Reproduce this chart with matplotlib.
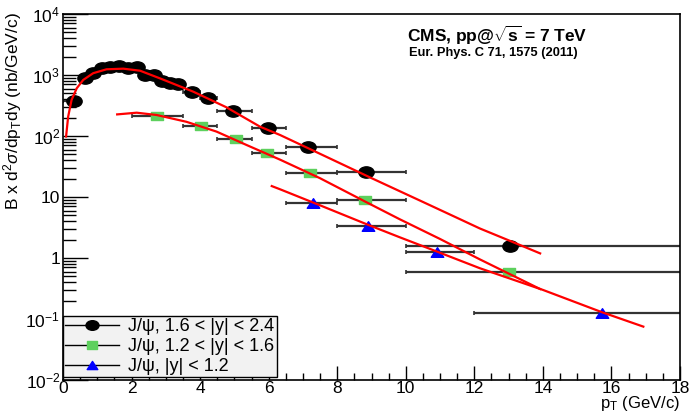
import numpy as np
import matplotlib
matplotlib.use("Agg")
import matplotlib.pyplot as plt
from matplotlib.lines import Line2D
from matplotlib.path import Path
from matplotlib.ticker import FixedLocator, FixedFormatter, MultipleLocator

plt.rcParams['font.family'] = ['Liberation Sans', 'DejaVu Sans']
plt.rcParams['mathtext.fontset'] = 'custom'
plt.rcParams['mathtext.rm'] = 'Liberation Sans'
plt.rcParams['mathtext.it'] = 'Liberation Sans:italic'
plt.rcParams['mathtext.bf'] = 'Liberation Sans:bold'

# J/psi, 1.6 < |y| < 2.4
fwd_edges = [0, 0.5, 0.75, 1, 1.25, 1.5, 1.75, 2, 2.25, 2.5, 2.75, 3, 3.25,
             3.5, 4, 4.5, 5.5, 6.5, 8, 10, 30]
fwd_pt = [0.33, 0.64, 0.88, 1.13, 1.37, 1.64, 1.89, 2.15, 2.39, 2.66, 2.88,
          3.12, 3.36, 3.75, 4.24, 4.97, 5.99, 7.16, 8.84, 13.04]
fwd_xs = [380, 880, 1070, 1290, 1340, 1400, 1290, 1370, 1000, 1000, 807,
          750, 700, 520, 415, 257, 134, 65, 25.7, 1.6]

# J/psi, 1.2 < |y| < 1.6
mid_edges = [2, 3.5, 4.5, 5.5, 6.5, 8, 10, 30]
mid_pt = [2.73, 4.03, 5.05, 5.96, 7.2, 8.82, 13.0]
mid_xs = [215, 144, 89, 52, 24.5, 8.9, 0.58]

# J/psi, |y| < 1.2
cen_edges = [6.5, 8, 10, 12, 30]
cen_pt = [7.3, 8.9, 10.9, 15.71]
cen_xs = [8.0, 3.4, 1.27, 0.125]

# fit curves, sampled
fwd_fit_pt = [0.09, 0.15, 0.25, 0.4, 0.59, 0.88, 1.27, 1.76, 2.25, 2.83,
              3.8, 4.77, 5.75, 6.33, 7.5, 9.0, 10.5, 11.48, 12.16, 13.0,
              13.92]
fwd_fit = [98, 207, 390, 605, 830, 1070, 1240, 1270, 1175, 880,
           533, 295, 142, 104, 51, 20.4, 8.3, 4.6, 3.05, 1.95, 1.19]
mid_fit_pt = [1.58, 2.15, 2.73, 3.6, 4.48, 5.36, 6.33, 7.5, 8.8, 9.83,
              11.0, 12.16, 13.92]
mid_fit = [226, 241, 221, 171, 118, 71, 41, 20.3, 8.5, 4.3, 2.05, 0.95,
           0.31]
cen_fit_pt = [6.09, 6.33, 7.5, 8.9, 9.83, 10.9, 12.16, 14.0, 15.71, 16.93]
cen_fit = [15.1, 13.4, 7.3, 3.5, 2.18, 1.28, 0.68, 0.30, 0.13, 0.075]

ytick_vals = [1e-2, 1e-1, 1, 10, 1e2, 1e3, 1e4]
ytick_text = [r'$10^{-2}$', r'$10^{-1}$', '1', '10', r'$10^{2}$', r'$10^{3}$',
              r'$10^{4}$']


def ellipse_marker(sx, sy):
    c = Path.unit_circle()
    return Path(c.vertices * [sx, sy], c.codes)


def rect_marker(sx, sy):
    v = np.array([[-1, -1], [1, -1], [1, 1], [-1, 1], [-1, -1]], float)
    return Path(v * [sx, sy], closed=True)


def tri_marker(sx, sy):
    v = np.array([[0, 1], [-1, -1], [1, -1], [0, 1]], float)
    return Path(v * [sx, sy], closed=True)


def xerr_from(edges, pts):
    lo = [p - a for p, a in zip(pts, edges[:-1])]
    hi = [b - p for p, b in zip(pts, edges[1:])]
    return [lo, hi]


fig = plt.figure(figsize=(6.92, 4.12), dpi=100)
ax = fig.add_axes([63 / 692, 32 / 412, 617 / 692, 366 / 412])

series = [
    (fwd_edges, fwd_pt, fwd_xs, ellipse_marker(1.35, 1.0), 11, 'black',
     'J/ψ, 1.6 < |y| < 2.4'),
    (mid_edges, mid_pt, mid_xs, rect_marker(1.4, 1.0), 9, '#5dd05d',
     'J/ψ, 1.2 < |y| < 1.6'),
    (cen_edges, cen_pt, cen_xs, tri_marker(1.3, 1.0), 9, '#0000ff',
     'J/ψ, |y| < 1.2'),
]
for edges, pt, xs, mk, ms, col, lab in series:
    ax.errorbar(pt, xs, xerr=xerr_from(edges, pt), fmt='none',
                ecolor='#333333', elinewidth=1.6, capsize=1.5, capthick=1.2,
                zorder=2)
    ax.plot(pt, xs, ls='none', marker=mk, ms=ms, color=col, mec=col,
            zorder=3)

# fitted curves go on top of the markers
for fx, fy in [(fwd_fit_pt, fwd_fit), (mid_fit_pt, mid_fit),
               (cen_fit_pt, cen_fit)]:
    ax.plot(fx, fy, color='red', lw=1.6, zorder=4)

ax.set_yscale('log')
ax.set_xlim(0, 18)
ax.set_ylim(1e-2, 1e4)

ax.xaxis.set_major_locator(MultipleLocator(2))
ax.xaxis.set_minor_locator(MultipleLocator(0.5))
ax.yaxis.set_major_locator(FixedLocator(ytick_vals))
ax.yaxis.set_major_formatter(FixedFormatter(ytick_text))
ax.tick_params(which='both', direction='in', top=False, right=False,
               labelsize=12.5, width=1)
ax.tick_params(axis='y', which='major', length=18, pad=2)
ax.tick_params(axis='y', which='minor', length=9)
ax.tick_params(axis='x', which='major', length=10, pad=1)
ax.tick_params(axis='x', which='minor', length=5)
for sp in ax.spines.values():
    sp.set_linewidth(1.2)

ax.set_xlabel(r'p$_\mathregular{T}$ (GeV/c)', fontsize=12, loc='right')
ax.xaxis.set_label_coords(1.0, -0.038)
ax.set_ylabel(r'B x d$^\mathregular{2}$$\sigma$/dp$_\mathregular{T}$dy (nb/GeV/c)',
              fontsize=12.5, loc='top')
ax.yaxis.set_label_coords(-0.064, 1.005)

ax.text(407 / 692, 1 - 35 / 412, r'CMS, pp@$\sqrt{\mathregular{s}}$ = 7 TeV',
        transform=fig.transFigure, fontsize=12.5, fontweight='bold',
        va='center', ha='left')
ax.text(409 / 692, 1 - 53 / 412, 'Eur. Phys. C 71, 1575 (2011)',
        transform=fig.transFigure, fontsize=9.3, fontweight='bold',
        va='center', ha='left')

leg_handles = [Line2D([], [], color='black', lw=1, marker=s[3], ms=s[4] * 0.85,
                      mfc=s[5], mec=s[5]) for s in series]
leg = ax.legend(leg_handles, [s[6] for s in series],
                loc='lower left', bbox_to_anchor=(0, 3 / 366), fontsize=13,
                frameon=True, fancybox=False, handlelength=3.0,
                borderpad=0.12, labelspacing=0.15, handletextpad=0.5,
                borderaxespad=0.0)
leg.get_frame().set_facecolor('#f2f2f2')
leg.get_frame().set_edgecolor('black')
leg.get_frame().set_linewidth(1.0)
leg.get_frame().set_alpha(1)
leg.set_zorder(10)

fig.savefig('out.png', dpi=100)
